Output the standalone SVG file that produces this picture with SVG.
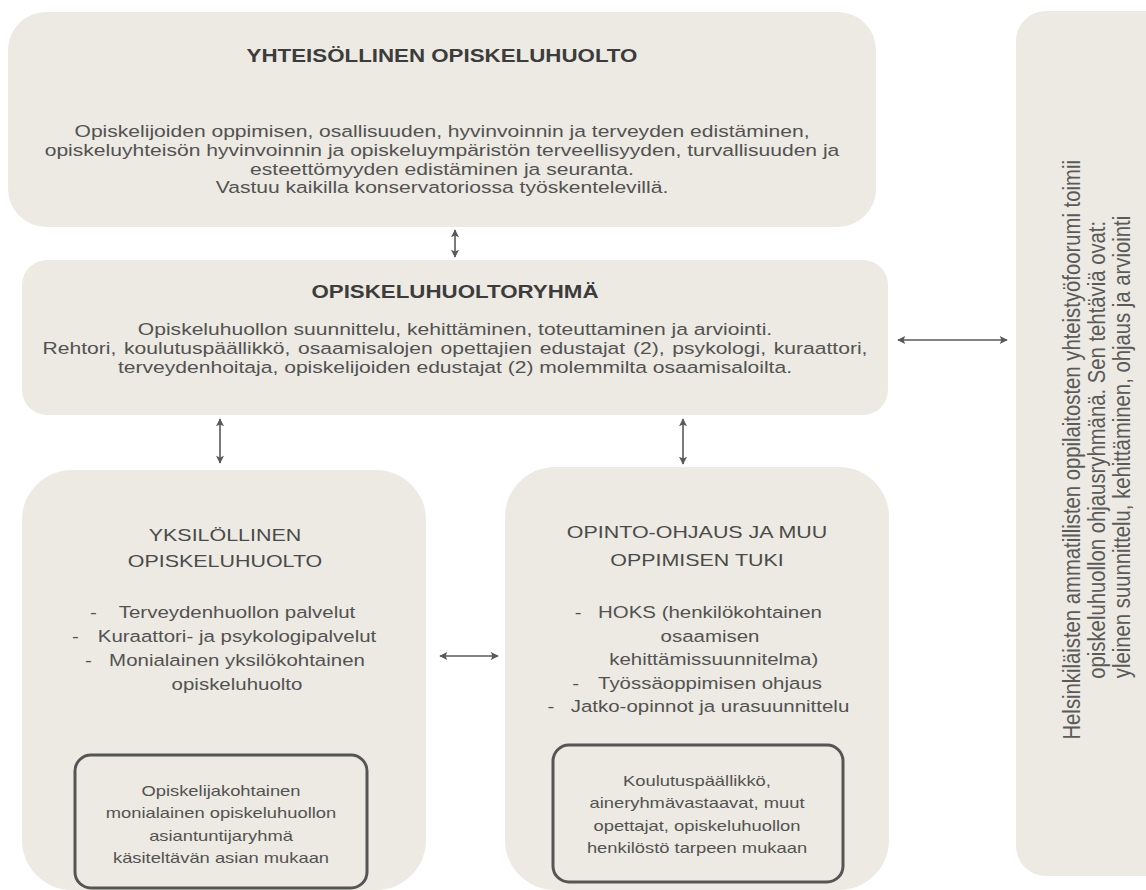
<svg xmlns="http://www.w3.org/2000/svg" width="1146" height="890" viewBox="0 0 1146 890">
<defs>
<style>
.box{fill:#ECEAE2;}
.inner{fill:none;stroke:#555;stroke-width:3;}
.t{font-family:"Liberation Sans",Arial,sans-serif;fill:#525252;text-anchor:middle;}
.s{text-anchor:start;}
.title{font-size:18px;font-weight:bold;fill:#3c3c3c;}
.body{font-size:17px;}
.body2{font-size:16.5px;}
.sub{font-size:17.3px;fill:#4a4a4a;}
.small{font-size:14.8px;}
.rot{font-size:20.3px;fill:#5a5a5a;}
.conn{stroke:#595959;stroke-width:1.6;fill:none;marker-start:url(#ah);marker-end:url(#ah);}
</style>
<marker id="ah" viewBox="0 0 10 10" refX="9" refY="5" markerWidth="9" markerHeight="8" markerUnits="userSpaceOnUse" orient="auto-start-reverse">
<path d="M0,0 L10,5 L0,10 L2,5 z" fill="#595959"/>
</marker>
</defs>
<rect width="1146" height="890" fill="#ffffff"/>

<g id="yhteisollinen">
<rect class="box" x="8" y="12" width="868" height="215" rx="38"/>
<g transform="translate(442,0) scale(1.24,1)">
<text class="t title" x="0" y="62">YHTEISÖLLINEN OPISKELUHUOLTO</text>
<text class="t body" x="0" y="137">Opiskelijoiden oppimisen, osallisuuden, hyvinvoinnin ja terveyden edistäminen,</text>
<text class="t body" x="0" y="156">opiskeluyhteisön hyvinvoinnin ja opiskeluympäristön terveellisyyden, turvallisuuden ja</text>
<text class="t body" x="0" y="175">esteettömyyden edistäminen ja seuranta.</text>
<text class="t body" x="0" y="193">Vastuu kaikilla konservatoriossa työskentelevillä.</text>
</g>
</g>

<g id="ryhma">
<rect class="box" x="22" y="260" width="866" height="155" rx="25"/>
<g transform="translate(455,0) scale(1.24,1)">
<text class="t title" x="0" y="298">OPISKELUHUOLTORYHMÄ</text>
<text class="t body" x="0" y="335">Opiskeluhuollon suunnittelu, kehittäminen, toteuttaminen ja arviointi.</text>
<text class="t body" x="0" y="354" word-spacing="1.6">Rehtori, koulutuspäällikkö, osaamisalojen opettajien edustajat (2), psykologi, kuraattori,</text>
<text class="t body" x="0" y="373">terveydenhoitaja, opiskelijoiden edustajat (2) molemmilta osaamisaloilta.</text>
</g>
</g>

<g id="yksilollinen">
<rect class="box" x="22" y="470" width="404" height="420" rx="50"/>
<g transform="translate(225,0) scale(1.24,1)">
<text class="t sub" x="0" y="541">YKSILÖLLINEN</text>
<text class="t sub" x="0" y="567">OPISKELUHUOLTO</text>
</g>
<g transform="translate(237,0) scale(1.24,1)">
<text class="t body2 s" x="-118.5" y="618">-</text>
<text class="t body2" x="0" y="618">Terveydenhuollon palvelut</text>
<text class="t body2 s" x="-133" y="642">-</text>
<text class="t body2" x="0" y="642">Kuraattori- ja psykologipalvelut</text>
<text class="t body2 s" x="-122.6" y="666">-</text>
<text class="t body2" x="0" y="666">Monialainen yksilökohtainen</text>
<text class="t body2" x="0" y="690">opiskeluhuolto</text>
</g>
<rect class="inner" x="75" y="755" width="292" height="133" rx="16"/>
<g transform="translate(221,0) scale(1.24,1)">
<text class="t small" x="0" y="796">Opiskelijakohtainen</text>
<text class="t small" x="0" y="818">monialainen opiskeluhuollon</text>
<text class="t small" x="0" y="841">asiantuntijaryhmä</text>
<text class="t small" x="0" y="863">käsiteltävän asian mukaan</text>
</g>
</g>

<g id="opinto-ohjaus">
<rect class="box" x="505" y="467" width="384" height="423" rx="50"/>
<g transform="translate(697,0) scale(1.24,1)">
<text class="t sub" x="0" y="538">OPINTO-OHJAUS  JA MUU</text>
<text class="t sub" x="0" y="566">OPPIMISEN  TUKI</text>
</g>
<g transform="translate(710,0) scale(1.24,1)">
<text class="t body2 s" x="-109" y="618">-</text>
<text class="t body2" x="0" y="618">HOKS (henkilökohtainen</text>
<text class="t body2" x="0" y="642">osaamisen</text>
<text class="t body2" x="3" y="665">kehittämissuunnitelma)</text>
<text class="t body2 s" x="-111" y="689">-</text>
<text class="t body2" x="0" y="689">Työssäoppimisen ohjaus</text>
<text class="t body2 s" x="-131" y="712">-</text>
<text class="t body2" x="0" y="712">Jatko-opinnot ja urasuunnittelu</text>
</g>
<rect class="inner" x="553" y="745" width="290" height="137" rx="16"/>
<g transform="translate(697,0) scale(1.24,1)">
<text class="t small" x="0" y="786">Koulutuspäällikkö,</text>
<text class="t small" x="0" y="808">aineryhmävastaavat,  muut</text>
<text class="t small" x="0" y="831">opettajat, opiskeluhuollon</text>
<text class="t small" x="0" y="853">henkilöstö tarpeen  mukaan</text>
</g>
</g>

<g id="yhteistyofoorumi">
<rect class="box" x="1016" y="11" width="160" height="865" rx="30"/>
<text class="t rot" transform="translate(1080,447) rotate(-90) scale(1,1.15)">
<tspan x="0" y="0">Helsinkiläisten ammatillisten oppilaitosten yhteistyöfoorumi toimii</tspan>
<tspan x="0" dy="21.8">opiskeluhuollon ohjausryhmänä. Sen tehtäviä ovat:</tspan>
<tspan x="0" dy="21.8">yleinen suunnittelu, kehittäminen, ohjaus ja arviointi</tspan>
</text>
</g>

<g id="connectors">
<line class="conn" x1="455" y1="230" x2="455" y2="257"/>
<line class="conn" x1="898" y1="340" x2="1007" y2="340"/>
<line class="conn" x1="220" y1="419" x2="220" y2="463"/>
<line class="conn" x1="683" y1="419" x2="683" y2="464"/>
<line class="conn" x1="440" y1="656" x2="498" y2="656"/>
</g>
</svg>
